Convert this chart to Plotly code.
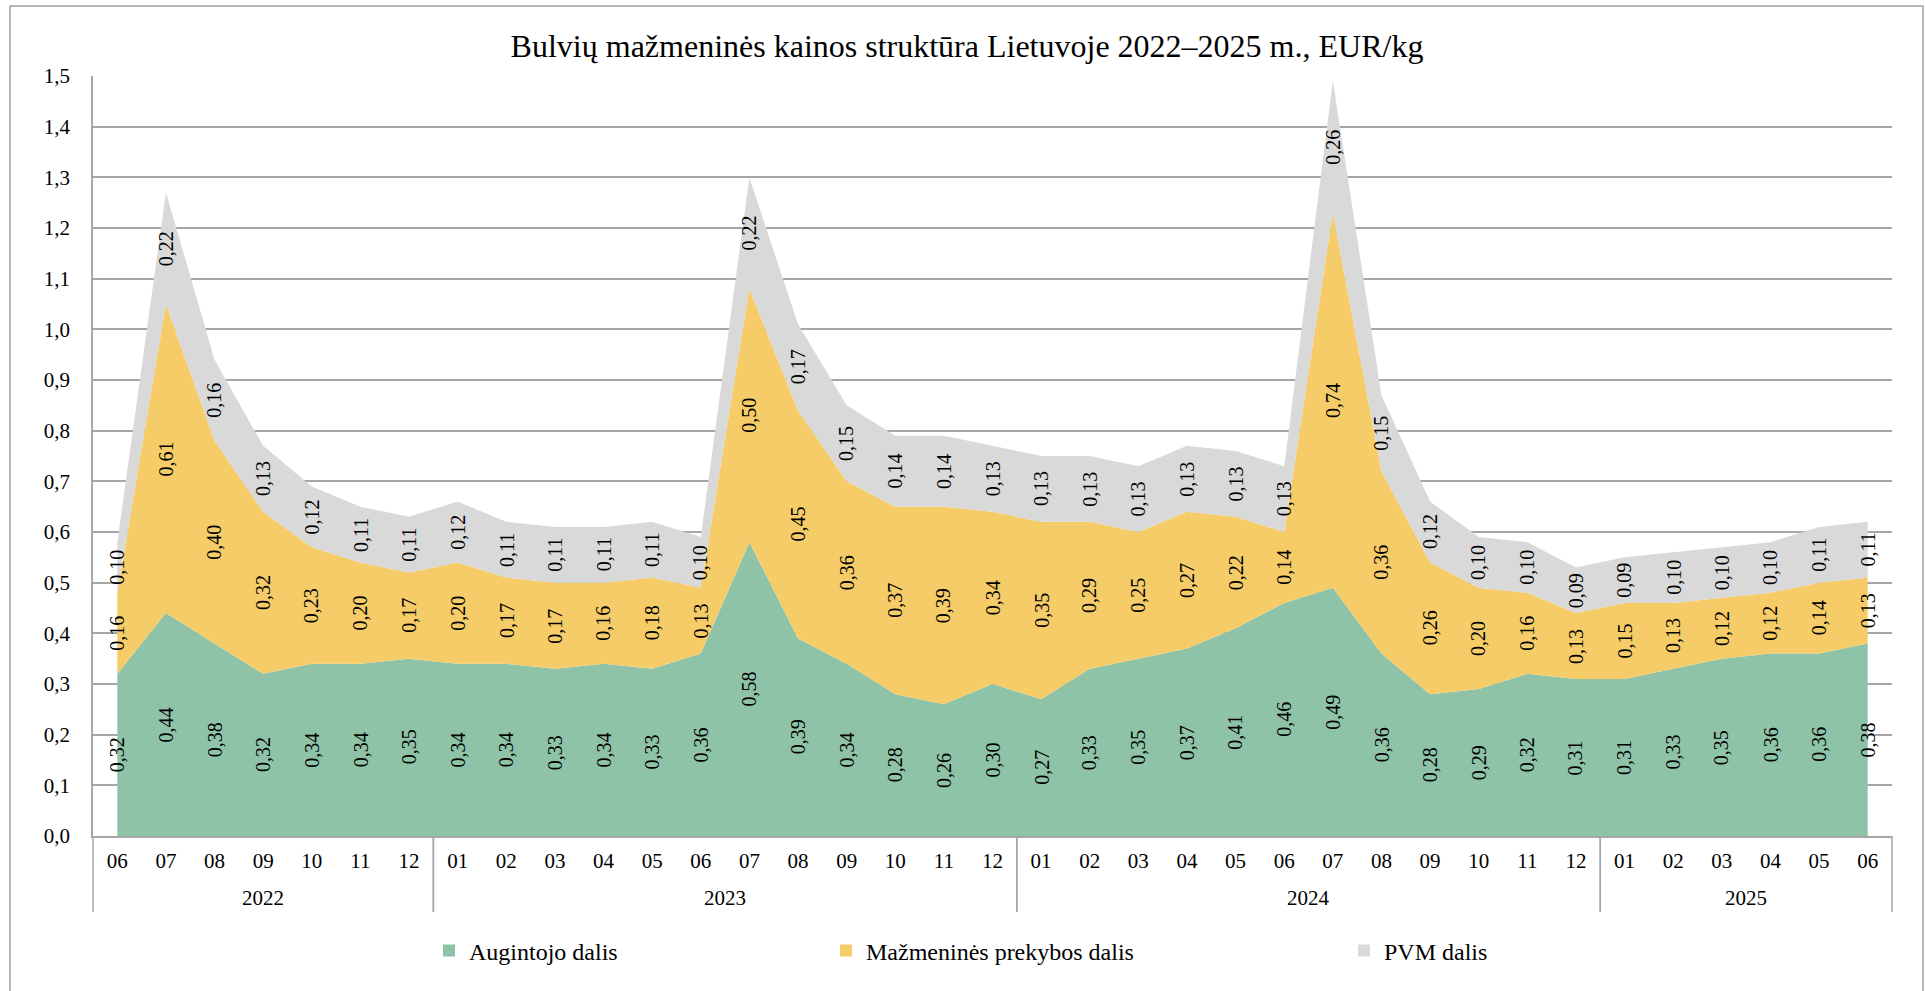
import plotly.graph_objects as go

# ---- data ----
years = ["2022"] * 7 + ["2023"] * 12 + ["2024"] * 12 + ["2025"] * 6
months = ["06", "07", "08", "09", "10", "11", "12",
          "01", "02", "03", "04", "05", "06", "07", "08", "09", "10", "11", "12",
          "01", "02", "03", "04", "05", "06", "07", "08", "09", "10", "11", "12",
          "01", "02", "03", "04", "05", "06"]

augintojo = [0.32, 0.44, 0.38, 0.32, 0.34, 0.34, 0.35,
             0.34, 0.34, 0.33, 0.34, 0.33, 0.36, 0.58, 0.39, 0.34, 0.28, 0.26, 0.30,
             0.27, 0.33, 0.35, 0.37, 0.41, 0.46, 0.49, 0.36, 0.28, 0.29, 0.32, 0.31,
             0.31, 0.33, 0.35, 0.36, 0.36, 0.38]
mazmenine = [0.16, 0.61, 0.40, 0.32, 0.23, 0.20, 0.17,
             0.20, 0.17, 0.17, 0.16, 0.18, 0.13, 0.50, 0.45, 0.36, 0.37, 0.39, 0.34,
             0.35, 0.29, 0.25, 0.27, 0.22, 0.14, 0.74, 0.36, 0.26, 0.20, 0.16, 0.13,
             0.15, 0.13, 0.12, 0.12, 0.14, 0.13]
pvm = [0.10, 0.22, 0.16, 0.13, 0.12, 0.11, 0.11,
       0.12, 0.11, 0.11, 0.11, 0.11, 0.10, 0.22, 0.17, 0.15, 0.14, 0.14, 0.13,
       0.13, 0.13, 0.13, 0.13, 0.13, 0.13, 0.26, 0.15, 0.12, 0.10, 0.10, 0.09,
       0.09, 0.10, 0.10, 0.10, 0.11, 0.11]

series_names = ["Augintojo dalis", "Mažmeninės prekybos dalis", "PVM dalis"]
series_values = [augintojo, mazmenine, pvm]
series_colors = ["#8FC3A8", "#F5CC68", "#D9D9D9"]

title_text = "Bulvių mažmeninės kainos struktūra Lietuvoje 2022–2025 m., EUR/kg"

# ---- style ----
FONT = "Liberation Serif"
GRID = "#A6A6A6"
W, H = 1925, 991
ML, MR, MT, MB = 93, 33, 76, 155
PW, PH = W - ML - MR, H - MT - MB

n = len(months)
xs = list(range(n))
x_range = [-0.5, n - 0.5]
y_range = [0, 1.5]


def xpaper(v):
    return (v - x_range[0]) / (x_range[1] - x_range[0])


def ypx_to_paper(py):
    return (H - MB - py) / PH


def xpx_to_paper(px):
    return (px - ML) / PW


fig = go.Figure()

for name, vals, col in zip(series_names, series_values, series_colors):
    fig.add_trace(go.Scatter(
        x=xs, y=vals, stackgroup="one", mode="none", fillcolor=col,
        line=dict(width=0), name=name, showlegend=False,
        hovertemplate="%{y:.2f}<extra>" + name + "</extra>"))

# legend entries (square symbols), each in its own legend
legend_ids = ["legend", "legend2", "legend3"]
for name, col, lid in zip(series_names, series_colors, legend_ids):
    fig.add_trace(go.Scatter(
        x=[None], y=[None], mode="markers", name=name, legend=lid,
        marker=dict(symbol="square", size=12, color=col), showlegend=True))

# data labels (rotated, centred in each band)
annotations = []
base = [0.0] * n
for vals in series_values:
    for i, v in enumerate(vals):
        annotations.append(dict(
            x=i, y=base[i] + v / 2, xref="x", yref="y",
            text=f"{v:.2f}".replace(".", ","), showarrow=False, textangle=-90,
            font=dict(family=FONT, size=20, color="black"),
            xanchor="center", yanchor="middle"))
        base[i] += v

# year group labels and separators
groups = []
start = 0
for i in range(1, n + 1):
    if i == n or years[i] != years[start]:
        groups.append((years[start], start, i - 1))
        start = i

shapes = []
sep_bottom = ypx_to_paper(912)
for yr, s, e in groups:
    annotations.append(dict(
        x=(s + e) / 2, y=ypx_to_paper(898), xref="x", yref="paper",
        text=yr, showarrow=False, font=dict(family=FONT, size=21, color="black"),
        xanchor="center", yanchor="middle"))
    for b in (s - 0.5, e + 0.5):
        shapes.append(dict(type="line", xref="paper", yref="paper",
                           x0=xpaper(b), x1=xpaper(b), y0=0, y1=sep_bottom,
                           line=dict(color=GRID, width=1.5)))

# outer chart border
shapes.append(dict(type="rect", xref="paper", yref="paper",
                   x0=xpx_to_paper(10), x1=xpx_to_paper(1923),
                   y0=ypx_to_paper(1000), y1=ypx_to_paper(6),
                   line=dict(color="#A0A0A0", width=1.5), fillcolor="rgba(0,0,0,0)",
                   layer="below"))

legend_common = dict(orientation="h", xanchor="left", yanchor="middle",
                     font=dict(family=FONT, size=24, color="black"),
                     bgcolor="rgba(0,0,0,0)", borderwidth=0)
leg_y = ypx_to_paper(951)
text_starts = [469, 866, 1384]
legends = {}
for lid, tx in zip(legend_ids, text_starts):
    legends[lid] = dict(legend_common, x=xpx_to_paper(tx - 40), y=leg_y)

fig.update_layout(
    width=W, height=H,
    margin=dict(l=ML, r=MR, t=MT, b=MB, autoexpand=False),
    paper_bgcolor="white", plot_bgcolor="white",
    separators=", ",
    font=dict(family=FONT, color="black"),
    title=dict(text=title_text, x=967 / W, xref="container", xanchor="center",
               y=1 - 46 / H, yref="container", yanchor="middle",
               font=dict(family=FONT, size=32, color="black")),
    xaxis=dict(range=x_range, tickmode="array", tickvals=xs, ticktext=months,
               showgrid=False, zeroline=False, showline=True, linecolor=GRID,
               linewidth=1.5, ticks="", tickfont=dict(family=FONT, size=21, color="black"),
               ticklabelstandoff=5, fixedrange=True),
    yaxis=dict(range=y_range, tickmode="linear", tick0=0, dtick=0.1, tickformat=".1f",
               showgrid=True, gridcolor=GRID, gridwidth=1.5, zeroline=False,
               showline=True, linecolor=GRID, linewidth=1.5, ticks="",
               tickfont=dict(family=FONT, size=21, color="black"),
               ticklabelstandoff=17, fixedrange=True),
    annotations=annotations,
    shapes=shapes,
    showlegend=True,
    **legends,
)

fig.write_html(
    "out.html",
    config={"displayModeBar": False},
    post_script="document.body.style.margin='0';document.body.style.overflow='hidden';",
)
